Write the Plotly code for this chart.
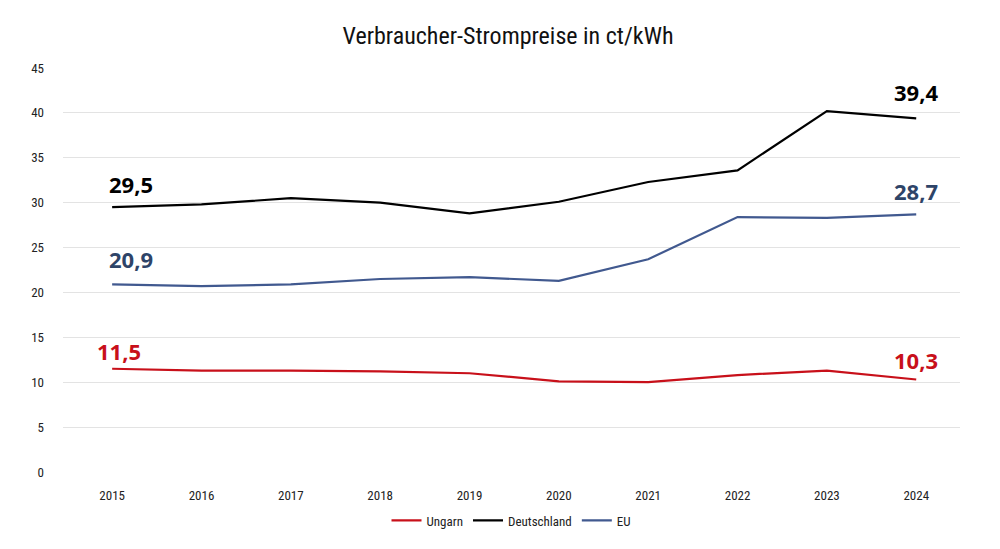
import plotly.graph_objects as go

# Daten
jahre = ["2015", "2016", "2017", "2018", "2019", "2020", "2021", "2022", "2023", "2024"]
ungarn = [11.5, 11.3, 11.3, 11.2, 11.0, 10.1, 10.0, 10.8, 11.3, 10.3]
deutschland = [29.5, 29.8, 30.5, 30.0, 28.8, 30.1, 32.3, 33.6, 40.2, 39.4]
eu = [20.9, 20.7, 20.9, 21.5, 21.7, 21.3, 23.7, 28.4, 28.3, 28.7]

hand = "Liberation Sans Narrow, Roboto Condensed, sans-serif"

fig = go.Figure()
fig.add_trace(go.Scatter(x=jahre, y=ungarn, name="Ungarn", mode="lines",
                         line=dict(color="#C8101A", width=2.2)))
fig.add_trace(go.Scatter(x=jahre, y=deutschland, name="Deutschland", mode="lines",
                         line=dict(color="#000000", width=2.2)))
fig.add_trace(go.Scatter(x=jahre, y=eu, name="EU", mode="lines",
                         line=dict(color="#41598F", width=2.2)))

# Beschriftung erster und letzter Wert
labels = []
def label(serie, i, farbe, xs, ys):
    labels.append(dict(x=i, y=serie[i], xref="x", yref="y",
                       text="<b>" + f"{serie[i]:.1f}".replace(".", ",") + "</b>",
                       showarrow=False, xshift=xs, yshift=ys,
                       font=dict(family="Open Sans", size=22, color=farbe)))

label(deutschland, 0, "#000000", 19, 23)
label(deutschland, 9, "#000000", 0, 26)
label(eu, 0, "#2E4468", 19, 25)
label(eu, 9, "#2E4468", 0, 23)
label(ungarn, 0, "#C8101A", 7, 18)
label(ungarn, 9, "#C8101A", 0, 20)

fig.update_layout(
    width=1000, height=549,
    paper_bgcolor="white", plot_bgcolor="white",
    margin=dict(l=55, r=48, t=60, b=85),
    annotations=labels,
    title=dict(text="Verbraucher-Strompreise in ct/kWh", x=0.5, xanchor="center",
               y=0.95, yanchor="middle", font=dict(family=hand, size=24, color="#111111")),
    legend=dict(orientation="h", x=0.5, xanchor="center", y=-0.12, yanchor="middle",
                font=dict(family=hand, size=13, color="#222222")),
    showlegend=True,
)
fig.update_xaxes(type="category", range=[-0.55, 9.49], showgrid=False, zeroline=False,
                 showline=False, ticks="", ticklabelstandoff=14,
                 tickfont=dict(family=hand, size=13, color="#222222"))
fig.update_yaxes(range=[0, 45], dtick=5, showgrid=True, gridcolor="#E3E3E3", gridwidth=1,
                 zeroline=False, showline=False, ticks="", ticklabelstandoff=18,
                 tickfont=dict(family=hand, size=13, color="#222222"))

fig.write_html("out.html")
